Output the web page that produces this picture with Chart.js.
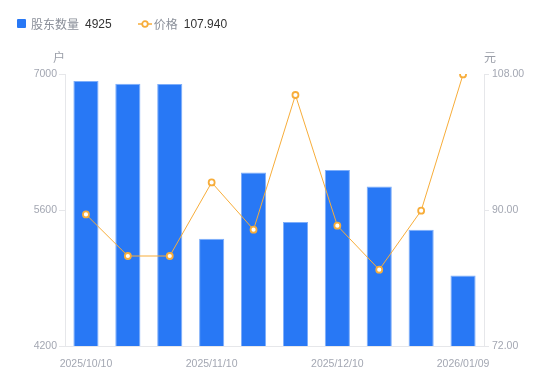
<!DOCTYPE html>
<html><head><meta charset="utf-8">
<script src="https://cdn.jsdelivr.net/npm/chart.js@4/dist/chart.umd.min.js"></script>
<style>
html,body{margin:0;padding:0;background:#fff;}
#wrap{position:relative;width:550px;height:381px;}
#legend{position:absolute;left:17px;top:15px;font-family:"Noto Sans CJK SC","Noto Sans",sans-serif;font-size:12px;display:flex;align-items:center;}
.item{display:flex;align-items:center;}
.sq{width:9px;height:9px;background:#2878f5;border-radius:1px;margin-right:5px;}
.lab{color:#8a8f99;margin-right:6px;}
.val{color:#333;font-family:"Liberation Sans",Arial,sans-serif;font-size:12px;}
.unit{position:absolute;top:48px;font-family:"Noto Sans CJK SC",sans-serif;font-size:12px;color:#9a9ea8;}
</style></head>
<body><div id="wrap">
<canvas id="c" width="550" height="381"></canvas>
<div id="legend">
 <div class="item" style="margin-right:26px"><div class="sq"></div><span class="lab">股东数量</span><span class="val">4925</span></div>
 <div class="item"><svg width="14" height="10" style="margin-right:2px"><line x1="0" y1="5" x2="14" y2="5" stroke="#f7ad3a" stroke-width="1.5"/><circle cx="7" cy="5" r="2.8" fill="#fff" stroke="#f7ad3a" stroke-width="1.8"/></svg><span class="lab">价格</span><span class="val">107.940</span></div>
</div>
<div class="unit" style="left:53px">户</div>
<div class="unit" style="left:484px">元</div>
</div>
<script>
const dates = ["2025/10/10","2025/10/20","2025/10/31","2025/11/10","2025/11/20","2025/11/28","2025/12/10","2025/12/19","2025/12/31","2026/01/09"];
const holders = [6928,6900,6897,5304,5987,5476,6011,5842,5396,4925];
const prices = [89.42,83.91,83.91,93.65,87.40,105.22,87.92,82.10,89.91,107.94];
const shownLabels = [0,3,6,9];
const leftTicks = [4200,5600,7000];
const rightTicks = [72,90,108];

const tickFont = {family:'"Liberation Sans", Arial, sans-serif', size:10.5};
const tickColor = '#a3a7b2';
const lineCol = '#e6e7ea';

new Chart(document.getElementById('c'), {
  data: {
    labels: dates,
    datasets: [
      {type:'line', label:'价格', data:prices, yAxisID:'y1', borderColor:'#f7ad3a', borderWidth:1,
       pointRadius:3, pointBorderWidth:1.8, pointBackgroundColor:'#fff', pointBorderColor:'#f7ad3a', tension:0, order:0},
      {type:'bar', label:'股东数量', data:holders, yAxisID:'y', backgroundColor:'#2878f5',
       borderColor:'#7eaefa', borderWidth:{top:1,left:1,right:1,bottom:0}, categoryPercentage:0.6, barPercentage:1, order:1}
    ]
  },
  options: {
    responsive:false, animation:false,
    layout:{padding:{top:74,left:0,right:0,bottom:0}},
    plugins:{legend:{display:false}, tooltip:{enabled:false}},
    scales:{
      x:{offset:true, grid:{display:false}, border:{color:lineCol},
         ticks:{font:tickFont, color:tickColor, maxRotation:0, autoSkip:false, padding:4,
                callback:(v,i)=> shownLabels.includes(i)? dates[i] : ''},
         afterFit:s=>{s.height=35;}},
      y:{position:'left', min:4200, max:7000, border:{color:lineCol},
         grid:{drawOnChartArea:false, tickLength:6, color:lineCol},
         afterBuildTicks:s=>{s.ticks=leftTicks.map(v=>({value:v}));},
         ticks:{font:tickFont, color:tickColor, padding:2, callback:v=>String(v)},
         afterFit:s=>{s.width=65;}},
      y1:{position:'right', min:72, max:108, border:{color:lineCol},
         grid:{drawOnChartArea:false, tickLength:5, color:lineCol},
         afterBuildTicks:s=>{s.ticks=rightTicks.map(v=>({value:v}));},
         ticks:{font:tickFont, color:tickColor, padding:3, callback:v=>Number(v).toFixed(2)},
         afterFit:s=>{s.width=66;}}
    }
  }
});
</script>
</body></html>
